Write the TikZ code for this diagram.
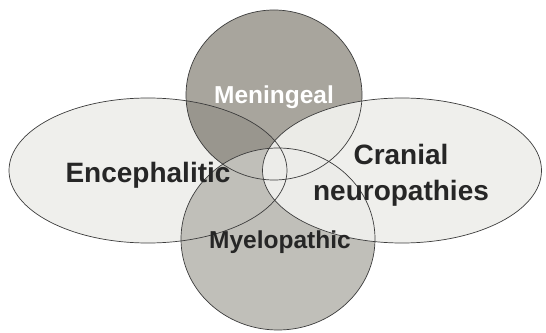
\documentclass[tikz,border=0pt]{standalone}
\usepackage{fontspec}
\setmainfont{Liberation Sans}
\definecolor{vnEllipse}{RGB}{239,239,236}
\definecolor{vnTop}{RGB}{168,165,157}
\definecolor{vnTopDark}{RGB}{153,150,142}
\definecolor{vnBottom}{RGB}{192,191,185}
\definecolor{vnLine}{RGB}{60,60,60}
\definecolor{vnText}{RGB}{38,38,38}
\usetikzlibrary{positioning}
\tikzset{
  rim/.style={draw=vnLine, line width=0.7pt},
  biglabel/.style={font=\fontsize{28}{36}\selectfont\bfseries, text=vnText, align=center, inner sep=0pt},
  smalllabel/.style={font=\fontsize{24.5}{29}\selectfont\bfseries, text=#1, inner sep=0pt},
  smalllabel/.default=vnText,
}

\begin{document}
\begin{tikzpicture}[x=1pt, y=1pt]
  \useasboundingbox[fill=white] (0,0) rectangle (546,332);

  % centres of the four sets
  \coordinate (enc) at (148,161.5);
  \coordinate (cra) at (402,161.5);
  \coordinate (men) at (274,237);
  \coordinate (mye) at (278,93);

  % fills
  \fill[vnEllipse] (enc) ellipse [x radius=139, y radius=72.5];
  \fill[vnTop] (men) ellipse [x radius=88, y radius=85];
  \begin{scope}
    \clip (enc) ellipse [x radius=139, y radius=72.5];
    \fill[vnTopDark] (men) ellipse [x radius=88, y radius=85];
  \end{scope}
  \fill[vnBottom] (mye) ellipse [x radius=97, y radius=91];
  \fill[vnEllipse, fill opacity=0.95] (cra) ellipse [x radius=139.5, y radius=72.5];

  % outlines
  \draw[rim] (enc) ellipse [x radius=139, y radius=72.5];
  \draw[rim] (cra) ellipse [x radius=139.5, y radius=72.5];
  \draw[rim] (men) ellipse [x radius=88, y radius=85];
  \draw[rim] (mye) ellipse [x radius=97, y radius=91];

  % labels
  \node[smalllabel=white, anchor=base] (lmen) at (274,228) {Meningeal};
  \node[biglabel, anchor=base] (lenc) at (148,149.5) {Encephalitic};
  \node[biglabel] (lcra) at (401,157) {Cranial\\neuropathies};
  \node[smalllabel, anchor=base] (lmye) at (280,83) {Myelopathic};
\end{tikzpicture}
\end{document}
